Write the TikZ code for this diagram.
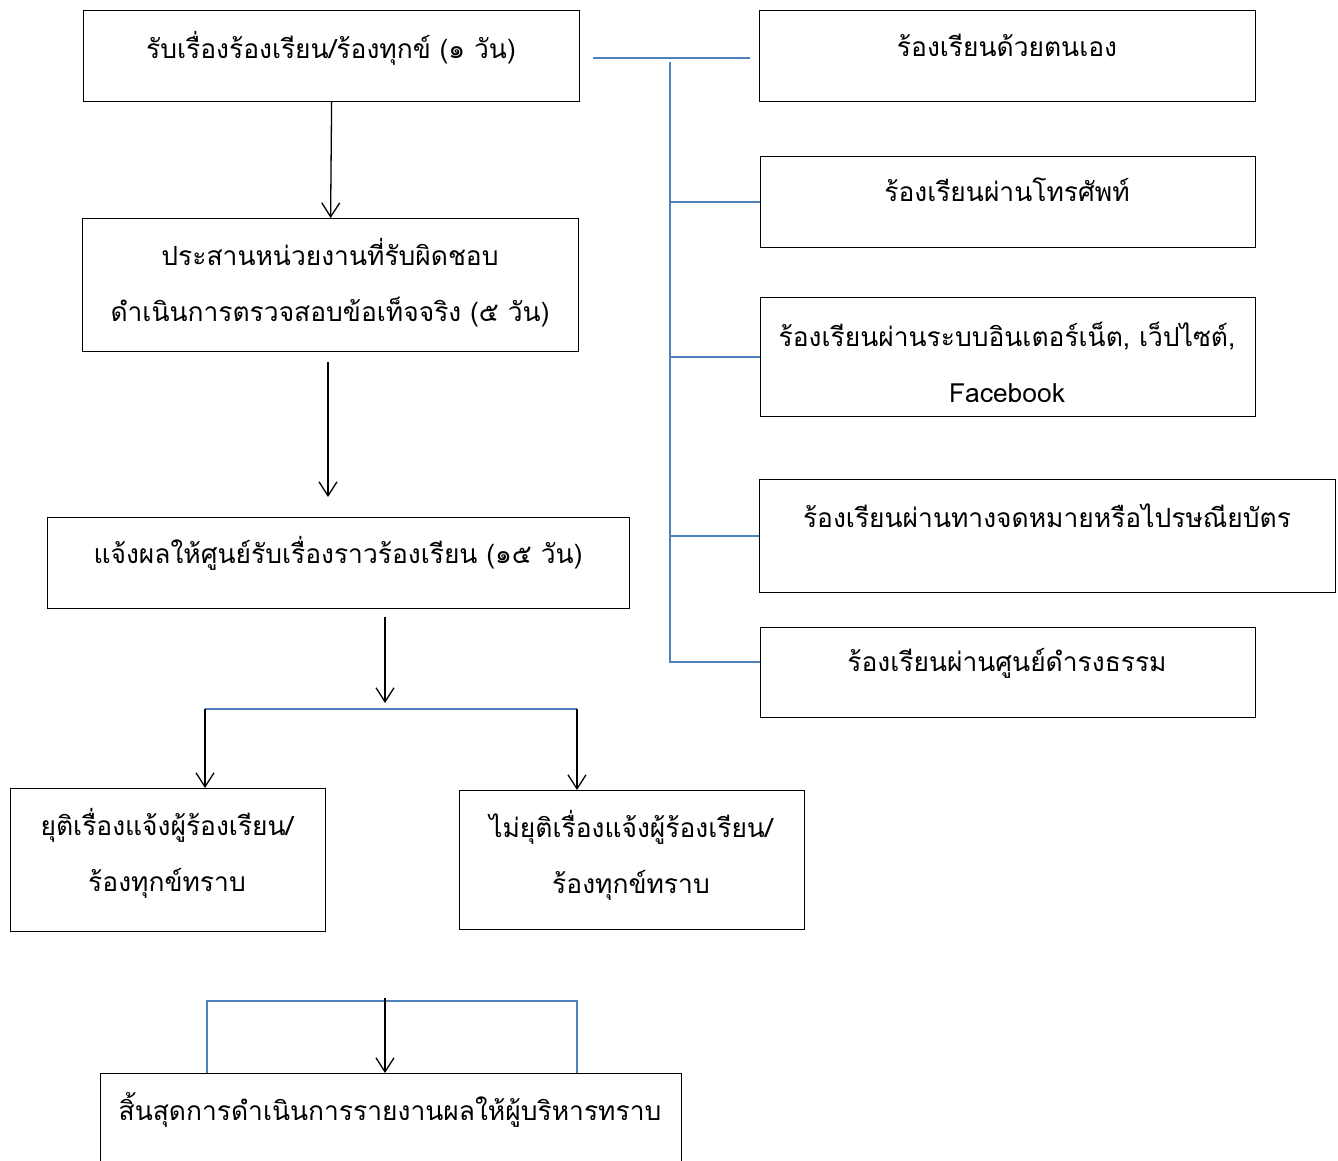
\documentclass[tikz,border=0pt]{standalone}
\usepackage{fontspec}
\newfontfamily\thaifont[Script=Thai]{Loma}
\usetikzlibrary{arrows.meta}
\definecolor{linkblue}{RGB}{79,129,189}

\begin{document}
\begin{tikzpicture}[x=1pt,y=-1pt,
    box/.style={draw,line width=1.2pt,inner sep=0pt,anchor=north west},
    txt/.style={font=\thaifont\fontsize{26.4}{56}\selectfont,align=center,inner sep=0pt},
    link/.style={draw=linkblue,line width=1.8pt},
    flow/.style={line width=1.3pt,-{Straight Barb[length=14pt,width=18pt]}}]
  \useasboundingbox (0,0) rectangle (1338,1161);

  % left column
  \node[box,minimum width=496,minimum height=91] (recv) at (83,10) {};
  \node[txt] (recvtxt) at (331,48) {รับเรื่องร้องเรียน/ร้องทุกข์ (๑ วัน)};
  \node[box,minimum width=496,minimum height=133] (check) at (82,218) {};
  \node[txt] (checktxt) at (330,283) {ประสานหน่วยงานที่รับผิดชอบ\\ดำเนินการตรวจสอบข้อเท็จจริง (๕ วัน)};
  \node[box,minimum width=582,minimum height=91] (notify) at (47,517) {};
  \node[txt] (notifytxt) at (338,553) {แจ้งผลให้ศูนย์รับเรื่องราวร้องเรียน (๑๕ วัน)};
  \node[box,minimum width=315,minimum height=143] (endok) at (10,788) {};
  \node[txt] (endoktxt) at (167,853) {ยุติเรื่องแจ้งผู้ร้องเรียน/\\ร้องทุกข์ทราบ};
  \node[box,minimum width=345,minimum height=139] (endno) at (459,790) {};
  \node[txt] (endnotxt) at (631,855) {ไม่ยุติเรื่องแจ้งผู้ร้องเรียน/\\ร้องทุกข์ทราบ};
  \node[box,minimum width=581,minimum height=110] (final) at (100,1073) {};
  \node[txt] (finaltxt) at (390,1110) {สิ้นสุดการดำเนินการรายงานผลให้ผู้บริหารทราบ};

  % right column
  \node[box,minimum width=496,minimum height=91] (src1) at (759,10) {};
  \node[txt] (src1txt) at (1007,45) {ร้องเรียนด้วยตนเอง};
  \node[box,minimum width=495,minimum height=91] (src2) at (760,156) {};
  \node[txt] (src2txt) at (1007,190) {ร้องเรียนผ่านโทรศัพท์};
  \node[box,minimum width=495,minimum height=119] (src3) at (760,297) {};
  \node[txt] (src3txt) at (1007,362) {ร้องเรียนผ่านระบบอินเตอร์เน็ต, เว็ปไซต์,\\Facebook};
  \node[box,minimum width=576,minimum height=113] (src4) at (759,479) {};
  \node[txt] (src4txt) at (1047,516) {ร้องเรียนผ่านทางจดหมายหรือไปรษณียบัตร};
  \node[box,minimum width=495,minimum height=90] (src5) at (760,627) {};
  \node[txt] (src5txt) at (1007,663) {ร้องเรียนผ่านศูนย์ดำรงธรรม};

  % blue links
  \coordinate (hubL) at (593,58);
  \coordinate (hubR) at (750,58);
  \coordinate (spinetop) at (670,62);
  \coordinate (spinebot) at (670,662);
  \draw[link] (hubL) -- (hubR);
  \draw[link] (spinetop) -- (spinebot) -- (spinebot -| src5.west);
  \foreach \n in {src2,src3,src4}
    \draw[link] (spinetop |- \n.west) -- (\n.west);

  \coordinate (splitL) at (205,709);
  \coordinate (splitR) at (577,709);
  \draw[link] (splitL) -- (splitR);
  \coordinate (joinL) at (207,1001);
  \coordinate (joinR) at (577,1001);
  \draw[link] (joinL |- final.north) -- (joinL) -- (joinR) -- (joinR |- final.north);

  % flow arrows
  \coordinate (gap2s) at (328,362);
  \coordinate (gap2e) at (328,497);
  \coordinate (gap3s) at (385,617);
  \coordinate (gap3e) at (385,703);
  \coordinate (joinM) at (385,998);
  \draw[flow] (recv.south) -- (check.north);
  \draw[flow] (gap2s) -- (gap2e);
  \draw[flow] (gap3s) -- (gap3e);
  \draw[flow] (splitL) -- (splitL |- endok.north);
  \draw[flow] (splitR) -- (splitR |- endno.north);
  \draw[flow] (joinM) -- (joinM |- final.north);
\end{tikzpicture}
\end{document}
